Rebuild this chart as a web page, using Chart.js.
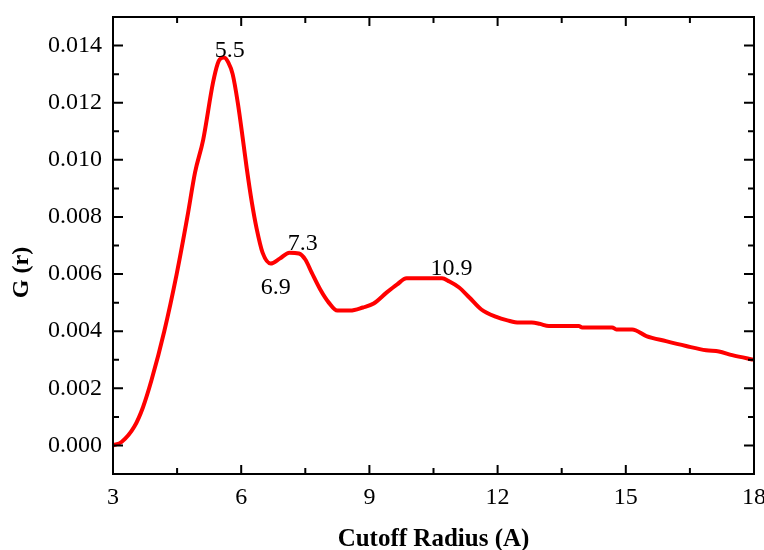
<!DOCTYPE html>
<html>
<head>
<meta charset="utf-8">
<script src="https://cdn.jsdelivr.net/npm/chart.js@4/dist/chart.umd.min.js"></script>
<style>
  html, body { margin: 0; padding: 0; background: #ffffff; }
  #wrap { width: 764px; height: 550px; }
</style>
</head>
<body>
<div id="wrap"><canvas id="c" width="764" height="550"></canvas></div>
<script>
// Cutoff radius (A)
const radius = [
  3.0, 3.2, 3.5, 3.7, 3.9, 4.2, 4.49, 4.74, 4.92, 5.11, 5.34, 5.45, 5.5, 5.6,
  5.7, 5.8, 5.92, 6.05, 6.13, 6.25, 6.36, 6.5, 6.69, 6.9, 7.13, 7.35, 7.5, 7.65, 7.85,
  8.05, 8.25, 8.55, 8.85, 9.1, 9.4, 9.65, 9.87, 10.7, 10.87, 11.1, 11.34, 11.62, 11.97,
  12.23, 12.5, 12.8, 12.98, 13.2, 13.9, 13.98, 14.68, 14.78, 15.15, 15.48, 15.94, 16.41,
  16.88, 17.18, 17.49, 17.93, 18.0
];
// G(r)
const gValues = [
  0.0000, 0.00012, 0.00066, 0.00133, 0.00228, 0.0040, 0.0060, 0.0080, 0.00956, 0.0107,
  0.0127, 0.01337, 0.01352, 0.01358, 0.0134, 0.0130, 0.0120, 0.0106,
  0.0097, 0.0085, 0.0076, 0.00675, 0.00637, 0.00654, 0.00675, 0.00672, 0.00651, 0.00605,
  0.00546, 0.00500, 0.00472, 0.00472, 0.00483, 0.00497, 0.00535, 0.00564, 0.00585, 0.00585,
  0.00574, 0.00553, 0.00518, 0.00476, 0.00450, 0.00438, 0.00430, 0.00430, 0.00426, 0.00418,
  0.00418, 0.00413, 0.00413, 0.00406, 0.00406, 0.00383, 0.00365, 0.00348, 0.00333, 0.00329,
  0.00316, 0.00302, 0.00300
];
// Radii marked on the curve
const peakLabels = [5.5, 7.3, 6.9, 10.9];
// Tick labels
const xTickLabels = ['3', '6', '9', '12', '15', '18'];
const yTickLabels = ['0.000', '0.002', '0.004', '0.006', '0.008', '0.010', '0.012', '0.014'];

const serif = '"Liberation Serif", "Times New Roman", serif';

function curveAt(r) {
  for (let i = 1; i < radius.length; i++) {
    if (r <= radius[i]) {
      const t = (r - radius[i - 1]) / (radius[i] - radius[i - 1]);
      return gValues[i - 1] + t * (gValues[i] - gValues[i - 1]);
    }
  }
  return gValues[gValues.length - 1];
}

// Frame, inward tick marks on all four sides, peak labels and the y title
const framePlugin = {
  id: 'frame',
  afterDatasetsDraw(chart, args, opts) {
    const { ctx, chartArea: a, scales: { x, y } } = chart;
    ctx.save();
    ctx.strokeStyle = '#000';
    ctx.lineWidth = 2;
    ctx.lineCap = 'butt';
    ctx.strokeRect(a.left, a.top, a.right - a.left, a.bottom - a.top);
    ctx.beginPath();
    x.ticks.forEach(t => {
      const px = x.getPixelForValue(t.value);
      const major = Math.abs(Math.round(t.value / 3) * 3 - t.value) < 1e-6;
      const len = major ? 9 : 6;
      ctx.moveTo(px, a.bottom); ctx.lineTo(px, a.bottom - len);
      ctx.moveTo(px, a.top); ctx.lineTo(px, a.top + len);
    });
    y.ticks.forEach(t => {
      const py = y.getPixelForValue(t.value);
      const major = Math.round(t.value * 1000) % 2 === 0;
      const len = major ? 10 : 6;
      ctx.moveTo(a.left, py); ctx.lineTo(a.left + len, py);
      ctx.moveTo(a.right, py); ctx.lineTo(a.right - len, py);
    });
    ctx.stroke();

    // radius labels at the marked features of the curve
    ctx.fillStyle = '#000';
    ctx.font = '24px ' + serif;
    ctx.textAlign = 'center';
    ctx.textBaseline = 'alphabetic';
    peakLabels.forEach(r => {
      const off = opts.offsets[r] || [0, 0];
      const px = x.getPixelForValue(r) + off[0];
      const py = y.getPixelForValue(curveAt(r)) + off[1];
      ctx.fillText(r.toFixed(1), px, py);
    });

    // y axis title
    ctx.font = 'bold 24px ' + serif;
    ctx.translate(22, (a.top + a.bottom) / 2 + 27);
    ctx.rotate(-Math.PI / 2);
    ctx.textBaseline = 'middle';
    ctx.fillText('G (r)', 0, 0);
    ctx.restore();
  }
};

new Chart(document.getElementById('c'), {
  type: 'line',
  data: {
    datasets: [{
      data: radius.map((r, i) => ({ x: r, y: gValues[i] })),
      borderColor: '#ff0000',
      borderWidth: 4,
      pointRadius: 0,
      fill: false,
      cubicInterpolationMode: 'monotone'
    }]
  },
  options: {
    responsive: false,
    animation: false,
    devicePixelRatio: 1,
    layout: { padding: { top: 17, right: 10, bottom: 0, left: 0 } },
    plugins: {
      legend: { display: false },
      tooltip: { enabled: false },
      frame: { offsets: { 5.5: [10, -2], 7.3: [6, -3], 6.9: [-4, 35], 10.9: [1, -7] } }
    },
    scales: {
      x: {
        type: 'linear',
        min: 3, max: 18,
        afterFit(s) { s.height = 76; s.paddingLeft = 0; s.paddingRight = 0; },
        grid: { display: false, drawTicks: false },
        border: { display: false },
        ticks: {
          stepSize: 1.5,
          autoSkip: false,
          maxRotation: 0,
          padding: 9,
          color: '#000',
          font: { family: serif, size: 24 },
          callback(v) {
            const k = Math.round(v / 3);
            return Math.abs(k * 3 - v) < 1e-6 ? xTickLabels[k - 1] : '';
          }
        },
        title: {
          display: true,
          text: 'Cutoff Radius (A)',
          color: '#000',
          font: { family: serif, size: 25, weight: 'bold', lineHeight: '20px' },
          padding: { top: 0, bottom: 0 }
        }
      },
      y: {
        type: 'linear',
        min: -0.001, max: 0.015,
        afterFit(s) { s.width = 113; s.paddingTop = 0; s.paddingBottom = 0; },
        grid: { display: false, drawTicks: false },
        border: { display: false },
        ticks: {
          stepSize: 0.001,
          autoSkip: false,
          padding: 11,
          color: '#000',
          font: { family: serif, size: 24 },
          callback(v) {
            const m = Math.round(v * 1000);
            return (m >= 0 && m % 2 === 0 && m <= 14) ? yTickLabels[m / 2] : '';
          }
        }
      }
    }
  },
  plugins: [framePlugin]
});
</script>
</body>
</html>
